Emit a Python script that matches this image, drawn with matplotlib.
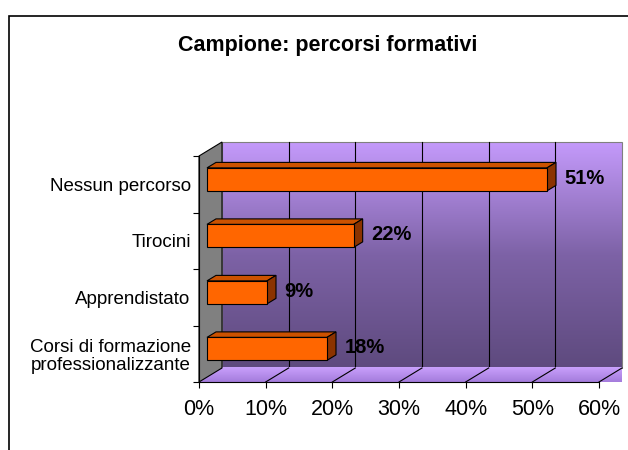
import numpy as np
import matplotlib
matplotlib.use("Agg")
import matplotlib.pyplot as plt
from matplotlib.patches import Polygon, Rectangle
from matplotlib.colors import LinearSegmentedColormap

plt.rcParams['font.family'] = ['Liberation Sans', 'DejaVu Sans']

# data (bottom to top)
categories = ['Corsi di formazione\nprofessionalizzante', 'Apprendistato', 'Tirocini', 'Nessun percorso']
values = [18, 9, 22, 51]
labels = ['18%', '9%', '22%', '51%']
xticks = [0, 10, 20, 30, 40, 50, 60]
xticklabels = ['0%', '10%', '20%', '30%', '40%', '50%', '60%']

W, H = 628, 450
fig = plt.figure(figsize=(W / 100, H / 100), dpi=100)

# outer chart frame (goes off the right and bottom edges)
fig.add_artist(Rectangle((9 / W, -0.05), 1.2, 1.05 - 16 / H, transform=fig.transFigure,
                         fill=False, edgecolor='black', linewidth=1.2))

fig.text(328 / W, 1 - 45 / H, 'Campione: percorsi formativi', ha='center', va='center',
         fontsize=15.5, fontweight='bold')

# axes = front plane of the 3D box
ax = fig.add_axes([199 / W, (H - 382) / H, 400 / W, 226 / H])
ax.set_xlim(0, 60)
ax.set_ylim(-0.5, 3.5)

dx = 3.45   # depth offset (x units)
dy = 0.248  # depth offset (y units)
y0, y1 = -0.5, 3.5

# back wall gradient
cmap = LinearSegmentedColormap.from_list('wall', ['#5E4A7E', '#7D62A6', '#C49AFB'])
grad = np.linspace(0, 1, 256).reshape(-1, 1)
ax.imshow(grad, extent=[dx, 60 + dx, y0 + dy, y1 + dy], origin='lower', aspect='auto',
          cmap=cmap, zorder=0, clip_on=False)
ax.add_patch(Rectangle((dx, y0 + dy), 60, y1 - y0, fill=False, edgecolor='#808080',
                       linewidth=0.8, zorder=1, clip_on=False))
for x in xticks[1:-1]:
    ax.plot([x + dx, x + dx], [y0 + dy, y1 + dy], color='black', linewidth=0.8, zorder=1,
            clip_on=False)

# floor
floor_cmap = LinearSegmentedColormap.from_list('floor', ['#A47CDC', '#C9A0FC'])
floor = Polygon([(0, y0), (60, y0), (60 + dx, y0 + dy), (dx, y0 + dy)], closed=True,
                facecolor='#B68DEE', edgecolor='#808080', linewidth=0.8, zorder=1, clip_on=False)
ax.add_patch(floor)
fimg = ax.imshow(np.linspace(0, 1, 64).reshape(-1, 1), extent=[0, 60 + dx, y0, y0 + dy],
                 origin='lower', aspect='auto', cmap=floor_cmap, zorder=1, clip_on=False)
fimg.set_clip_path(floor)
for x in xticks[1:]:
    ax.plot([x, x + dx], [y0, y0 + dy], color='black', linewidth=0.8, zorder=2, clip_on=False)

# left side wall
ax.add_patch(Polygon([(0, y0), (dx, y0 + dy), (dx, y1 + dy), (0, y1)], closed=True,
                     facecolor='#808080', edgecolor='black', linewidth=0.8, zorder=2,
                     clip_on=False))

# 3D bars
f0 = 8 / 23      # front face depth fraction
bd = 9 / 23      # bar depth fraction
bx0, by0 = dx * f0, dy * f0
bdx, bdy = dx * bd, dy * bd
bh = 0.407
ys = np.arange(len(categories))
ax.barh(ys + by0, values, height=bh, left=bx0, color='#FF6600', edgecolor='black',
        linewidth=0.8, zorder=4, clip_on=False)
for y, v, lab in zip(ys, values, labels):
    yb, yt = y + by0 - bh / 2, y + by0 + bh / 2
    xa, xb = bx0, bx0 + v
    ax.add_patch(Polygon([(xa, yt), (xb, yt), (xb + bdx, yt + bdy), (xa + bdx, yt + bdy)],
                         closed=True, facecolor='#CC5200', edgecolor='black', linewidth=0.8,
                         zorder=3, clip_on=False))
    ax.add_patch(Polygon([(xb, yb), (xb + bdx, yb + bdy), (xb + bdx, yt + bdy), (xb, yt)],
                         closed=True, facecolor='#8B3300', edgecolor='black', linewidth=0.8,
                         zorder=3, clip_on=False))
    ax.text(v + 3.8, y + by0 + 0.02, lab, ha='left', va='center', fontsize=14.5,
            fontweight='bold', zorder=5, clip_on=False)

# axes styling
for s in ['top', 'right']:
    ax.spines[s].set_visible(False)
ax.spines['left'].set_linewidth(0.8)
ax.spines['bottom'].set_linewidth(0.8)
ax.spines['left'].set_zorder(3)
ax.spines['bottom'].set_zorder(3)
ax.set_xticks(xticks)
ax.set_xticklabels(xticklabels, fontsize=15.5)
ax.tick_params(axis='x', direction='out', length=4.5, width=0.8, pad=8)
ax.set_yticks(ys)
ax.set_yticklabels(categories, fontsize=13.5, linespacing=1.1)
ax.set_yticks(np.arange(-0.5, 4.0, 1.0), minor=True)
ax.tick_params(axis='y', which='major', length=0, pad=6)
ax.tick_params(axis='y', which='minor', direction='out', length=4.5, width=0.8)
for t in ax.get_yticklabels():
    t.set_multialignment('right')
ax.set_facecolor('none')

fig.savefig('out.png', dpi=100)
